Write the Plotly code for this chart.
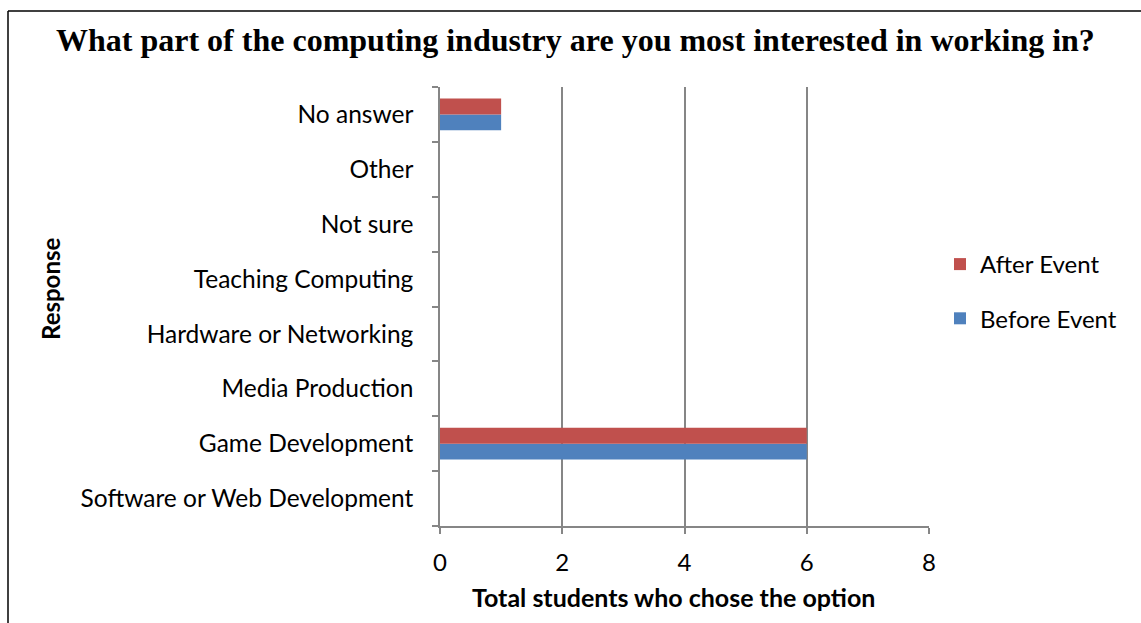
import plotly.graph_objects as go

# Survey responses, listed bottom-to-top as drawn on the category axis
responses = [
    "Software or Web Development",
    "Game Development",
    "Media Production",
    "Hardware or Networking",
    "Teaching Computing",
    "Not sure",
    "Other",
    "No answer",
]
before_event = [0, 6, 0, 0, 0, 0, 0, 1]
after_event = [0, 6, 0, 0, 0, 0, 0, 1]
x_ticks = [0, 2, 4, 6, 8]

BLUE = "#4F81BD"
RED = "#C0504D"
GRID = "#868686"
FONT = "Lato"
FS = 24

fig = go.Figure()
fig.add_trace(go.Bar(
    y=responses, x=before_event, orientation="h", name="Before Event",
    marker=dict(color=BLUE, line=dict(width=0)), legendgroup="before",
    legendrank=2,
))
fig.add_trace(go.Bar(
    y=responses, x=after_event, orientation="h", name="After Event",
    marker=dict(color=RED, line=dict(width=0)), legendgroup="after",
    legendrank=1,
))

# pixel geometry of the plotting area
W, H = 1141, 623
L, R, T, B = 440, 929, 87, 526


def px(xp):
    return (xp - L) / (R - L)


def py(yp):
    return (B - yp) / (B - T)


fig.update_layout(
    width=W, height=H,
    margin=dict(l=L, r=W - R, t=T, b=H - B, pad=0),
    paper_bgcolor="white", plot_bgcolor="white",
    barmode="group", bargap=0.42, bargroupgap=0,
    font=dict(family=FONT, color="black", size=FS),
    showlegend=True,
    legend=dict(
        x=px(940), y=py(242), xanchor="left", yanchor="top",
        traceorder="grouped", tracegroupgap=20,
        font=dict(family=FONT, size=FS), itemwidth=30,
        bgcolor="rgba(0,0,0,0)",
    ),
    xaxis=dict(
        range=[0, 8], tickvals=x_ticks, ticktext=[str(v) for v in x_ticks],
        showgrid=True, gridcolor=GRID, gridwidth=1.5,
        showline=True, linecolor=GRID, linewidth=1.5,
        ticks="outside", ticklen=6, tickcolor=GRID, tickwidth=1.5,
        tickfont=dict(family=FONT, size=FS), zeroline=False,
        ticklabelstandoff=8,
    ),
    yaxis=dict(
        categoryorder="array", categoryarray=responses,
        showgrid=False, showline=True, linecolor=GRID, linewidth=1.5,
        ticks="outside", tickson="boundaries", ticklen=6, tickcolor=GRID,
        tickwidth=1.5, tickfont=dict(family=FONT, size=24.5),
        ticklabelstandoff=20, zeroline=False,
    ),
    annotations=[
        dict(text="<b>What part of the computing industry are you most interested in working in?</b>",
             x=px(575), y=py(40), xref="paper", yref="paper",
             xanchor="center", yanchor="middle", showarrow=False,
             font=dict(family="Liberation Serif", size=32, color="black")),
        dict(text="<b>Total students who chose the option</b>",
             x=px(673), y=py(597), xref="paper", yref="paper",
             xanchor="center", yanchor="middle", showarrow=False,
             font=dict(family=FONT, size=25, color="black")),
        dict(text="<b>Response</b>", textangle=-90,
             x=px(50), y=py(289), xref="paper", yref="paper",
             xanchor="center", yanchor="middle", showarrow=False,
             font=dict(family=FONT, size=FS, color="black")),
    ],
    shapes=[
        # chart frame (top and left edges)
        dict(type="line", xref="paper", yref="paper",
             x0=px(8), x1=px(1150), y0=py(11), y1=py(11),
             line=dict(color="black", width=1.5)),
        dict(type="line", xref="paper", yref="paper",
             x0=px(8), x1=px(8), y0=py(11), y1=py(640),
             line=dict(color="black", width=1.5)),
    ],
)

fig.write_html("out.html")
